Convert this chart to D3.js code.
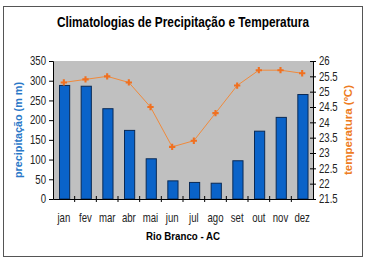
<!DOCTYPE html>
<html>
<head>
<meta charset="utf-8">
<script src="https://cdn.jsdelivr.net/npm/d3@7"></script>
<style>
  body { margin: 0; background: #fff; }
  text { font-family: "Liberation Sans Narrow", "Liberation Sans", Arial, sans-serif; }
</style>
</head>
<body>
<div id="chart"></div>
<script>
// dados
var meses = ["jan", "fev", "mar", "abr", "mai", "jun", "jul", "ago", "set", "out", "nov", "dez"];
var precipitacao = [288, 286, 229, 174, 102, 46, 42, 40, 97, 172, 207, 265];
var temperatura = [25.3, 25.4, 25.5, 25.3, 24.5, 23.2, 23.4, 24.3, 25.2, 25.7, 25.7, 25.6];
var ticksPrec = [0, 50, 100, 150, 200, 250, 300, 350];
var ticksTemp = [21.5, 22, 22.5, 23, 23.5, 24, 24.5, 25, 25.5, 26];

var width = 369, height = 261;
var mLeft = 53, mRight = 313, mTop = 61, mBottom = 199;

var svg = d3.select("#chart").append("svg")
  .attr("width", width)
  .attr("height", height);

// moldura
svg.append("rect")
  .attr("x", 3.5).attr("y", 6.5)
  .attr("width", 359).attr("height", 250)
  .attr("fill", "white")
  .attr("stroke", "#555")
  .attr("stroke-width", 1);

// titulo
svg.append("text")
  .attr("x", 183).attr("y", 27)
  .attr("text-anchor", "middle")
  .attr("font-size", "14px")
  .attr("font-weight", "bold")
  .attr("fill", "#000")
  .attr("textLength", 252)
  .attr("lengthAdjust", "spacingAndGlyphs")
  .text("Climatologias de Precipitação e Temperatura");

var x = d3.scaleBand().domain(meses).range([mLeft, mRight]).paddingInner(0).paddingOuter(0);
var yP = d3.scaleLinear().domain([0, 350]).range([mBottom, mTop]);
var yT = d3.scaleLinear().domain([21.5, 26]).range([mBottom, mTop]);

// area do grafico
svg.append("rect")
  .attr("x", mLeft).attr("y", mTop)
  .attr("width", mRight - mLeft).attr("height", mBottom - mTop)
  .attr("fill", "#c0c0c0");

// barras
svg.append("g").selectAll("rect")
  .data(precipitacao)
  .enter().append("rect")
  .attr("x", function(d, i) { return x(meses[i]) + x.bandwidth() * 0.3; })
  .attr("y", function(d) { return yP(d); })
  .attr("width", x.bandwidth() * 0.47)
  .attr("height", function(d) { return mBottom - yP(d); })
  .attr("fill", "#0a63c9")
  .attr("stroke", "#0a2a55")
  .attr("stroke-width", 1);

// linha temperatura
var linha = d3.line()
  .x(function(d, i) { return x(meses[i]) + x.bandwidth() / 2; })
  .y(function(d) { return yT(d); });
svg.append("path")
  .datum(temperatura)
  .attr("d", linha)
  .attr("fill", "none")
  .attr("stroke", "#f08a3c")
  .attr("stroke-width", 1);
svg.append("g").selectAll("path")
  .data(temperatura)
  .enter().append("path")
  .attr("d", d3.symbol().type(d3.symbolCross).size(22))
  .attr("transform", function(d, i) {
    return "translate(" + (x(meses[i]) + x.bandwidth() / 2) + "," + yT(d) + ")";
  })
  .attr("fill", "#f07020");

function estreito(sel) {
  // texto mais estreito, como no original
  sel.attr("font-size", "12px").attr("fill", "#222").style("font-family", null)
    .attr("transform", function() {
      var t = d3.select(this);
      var tx = +t.attr("x") || 0;
      return "translate(" + tx + ",0) scale(0.8,1) translate(" + (-tx) + ",0)";
    });
}

// eixo esquerdo
var eixoP = svg.append("g")
  .attr("transform", "translate(" + mLeft + ",0)")
  .call(d3.axisLeft(yP).tickValues(ticksPrec).tickSize(4).tickPadding(3));
estreito(eixoP.selectAll("text"));

// eixo direito
var eixoT = svg.append("g")
  .attr("transform", "translate(" + mRight + ",0)")
  .call(d3.axisRight(yT).tickValues(ticksTemp).tickFormat(function(d) { return String(d); }).tickSize(3).tickPadding(3));
eixoT.selectAll("line").attr("x1", -3);
estreito(eixoT.selectAll("text"));

// eixo x
var eixoX = svg.append("g")
  .attr("transform", "translate(0," + mBottom + ")")
  .call(d3.axisBottom(x).tickSize(0).tickPadding(14));
estreito(eixoX.selectAll("text"));
svg.append("g").selectAll("line")
  .data(meses.slice(1))
  .enter().append("line")
  .attr("x1", function(d) { return x(d); })
  .attr("x2", function(d) { return x(d); })
  .attr("y1", mBottom - 3)
  .attr("y2", mBottom + 3)
  .attr("stroke", "#000");
svg.selectAll(".domain").attr("stroke", "#000");

// rotulos
svg.append("text")
  .attr("transform", "translate(22," + ((mTop + mBottom) / 2) + ") rotate(-90)")
  .attr("text-anchor", "middle")
  .attr("font-size", "11px")
  .attr("font-weight", "bold")
  .attr("fill", "#2a78c8")
  .attr("textLength", 96)
  .attr("lengthAdjust", "spacingAndGlyphs")
  .text("precipitação (m m)");
svg.append("text")
  .attr("transform", "translate(352," + ((mTop + mBottom) / 2) + ") rotate(-90)")
  .attr("text-anchor", "middle")
  .attr("font-size", "11px")
  .attr("font-weight", "bold")
  .attr("fill", "#ee7c22")
  .attr("textLength", 90)
  .attr("lengthAdjust", "spacingAndGlyphs")
  .text("temperatura (ºC)");
svg.append("text")
  .attr("x", 183).attr("y", 240)
  .attr("text-anchor", "middle")
  .attr("font-size", "11px")
  .attr("font-weight", "bold")
  .attr("fill", "#000")
  .attr("textLength", 74)
  .attr("lengthAdjust", "spacingAndGlyphs")
  .text("Rio Branco - AC");
</script>
</body>
</html>
